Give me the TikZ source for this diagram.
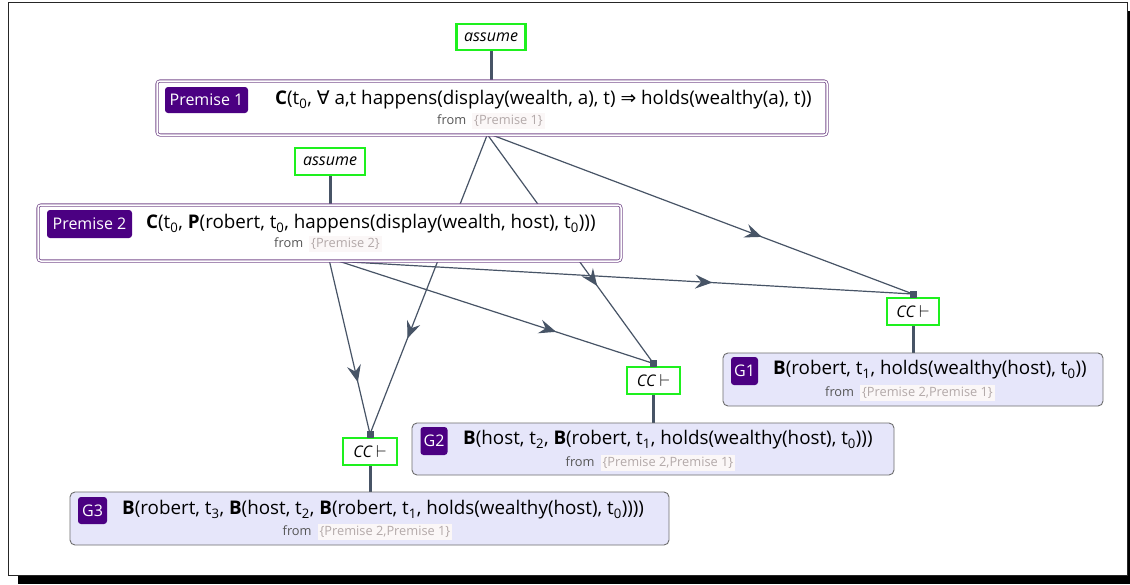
\documentclass[tikz,border=0pt]{standalone}
\usepackage{fontspec}
\setmainfont{Open Sans}
\newfontfamily\symf{DejaVu Sans}
\usetikzlibrary{arrows.meta,decorations.markings}
\definecolor{edgec}{HTML}{475466}
\definecolor{greenc}{HTML}{1EF01E}
\definecolor{tagc}{HTML}{4B0082}
\definecolor{premc}{HTML}{7B5290}
\definecolor{gfill}{HTML}{E6E6FA}
\definecolor{gdraw}{HTML}{6E6E6E}
\definecolor{fromc}{HTML}{555555}
\definecolor{bracec}{HTML}{B3A9A9}
\definecolor{bracebg}{HTML}{FBF7F7}
\pgfdeclarelayer{framelayer}
\pgfdeclarelayer{edgelayer}
\pgfsetlayers{framelayer,edgelayer,main}
\tikzset{
  prem/.style={draw=premc, double=white, double distance=1.5pt, line width=0.8pt, rounded corners=3pt, inner sep=0pt},
  goal/.style={draw=gdraw, fill=gfill, line width=0.9pt, rounded corners=5pt, inner sep=0pt},
  tag/.style={fill=tagc, rounded corners=3pt, text=white, font=\fontsize{16}{18}\selectfont, inner sep=0pt},
  rule/.style={draw=greenc, fill=white, line width=2.4pt, inner sep=0pt, font=\fontsize{16}{18}\selectfont\itshape},
  maintext/.style={anchor=west, inner sep=0pt, font=\fontsize{18.8}{21}\selectfont},
  fromtext/.style={inner sep=0pt, font=\fontsize{12.8}{15}\selectfont, text=fromc},
  sq/.style={fill=edgec, minimum size=7pt, inner sep=0pt},
  thick link/.style={draw=edgec, line width=3pt},
  edge/.style={draw=edgec, line width=1.2pt, postaction={decorate},
    decoration={markings, mark=at position #1 with {\arrow{Stealth[length=17pt,width=14pt,inset=6pt]}}}},
}
\newcommand{\fromline}[1]{from\hspace{6pt}{\setlength{\fboxsep}{2pt}\colorbox{bracebg}{\color{bracec}\{#1\}}}}
\newcommand{\ccl}{CC\hspace{4pt}$\vdash$}
\begin{document}
\begin{tikzpicture}[x=1pt,y=-1pt]
\useasboundingbox (0,0) rectangle (1130,584);
\begin{pgfonlayer}{framelayer}
  \fill[black] (18,11) rectangle (1130,584);
  \draw[fill=white, draw=black!85, line width=1pt] (8,2) rectangle (1127,575);
\end{pgfonlayer}

% Premise 1
\node[rule, minimum width=69pt, minimum height=26pt] (a1) at (491,37) {assume};
\node[prem, fill=white, minimum width=670pt, minimum height=54pt] (P1) at (492,108) {};
\node[tag, minimum width=83pt, minimum height=26pt] (t1) at (206.5,100) {Premise 1};
\node[maintext] (m1) at (275,100) {\textbf{C}(t\textsubscript{0}, {\symf ∀} a,t happens(display(wealth, a), t) {\symf ⇒} holds(wealthy(a), t))};
\node[fromtext] (f1) at (491,121) {\fromline{Premise 1}};

% Premise 2
\node[rule, minimum width=70pt, minimum height=27pt] (a2) at (330,161.5) {assume};
\node[prem, fill=white, minimum width=583pt, minimum height=56pt] (P2) at (329.5,233) {};
\node[tag, minimum width=85pt, minimum height=28pt] (t2) at (89.5,224) {Premise 2};
\node[maintext] (m2) at (146,224) {\textbf{C}(t\textsubscript{0}, \textbf{P}(robert, t\textsubscript{0}, happens(display(wealth, host), t\textsubscript{0})))};
\node[fromtext] (f2) at (328,244) {\fromline{Premise 2}};

% CC nodes and squares
\node[rule, minimum width=52pt, minimum height=27pt] (c1) at (913,311.5) {\ccl};
\node[sq] (s1) at (913,294) {};
\node[rule, minimum width=53pt, minimum height=27pt] (c2) at (653.5,380.5) {\ccl};
\node[sq] (s2) at (653.5,363.5) {};
\node[rule, minimum width=54pt, minimum height=27pt] (c3) at (370,451.5) {\ccl};
\node[sq] (s3) at (370,434) {};

% G1
\node[goal, minimum width=380pt, minimum height=53pt] (G1) at (913,379.5) {};
\node[tag, minimum width=27pt, minimum height=28pt] (g1t) at (744.5,371) {G1};
\node[maintext] (gm1) at (773,370) {\textbf{B}(robert, t\textsubscript{1}, holds(wealthy(host), t\textsubscript{0}))};
\node[fromtext] (gf1) at (910,393) {\fromline{Premise 2,Premise 1}};

% G2
\node[goal, minimum width=482pt, minimum height=52pt] (G2) at (653,449) {};
\node[tag, minimum width=27pt, minimum height=28pt] (g2t) at (434,441) {G2};
\node[maintext] (gm2) at (463,440) {\textbf{B}(host, t\textsubscript{2}, \textbf{B}(robert, t\textsubscript{1}, holds(wealthy(host), t\textsubscript{0})))};
\node[fromtext] (gf2) at (650.5,463) {\fromline{Premise 2,Premise 1}};

% G3
\node[goal, minimum width=599pt, minimum height=53pt] (G3) at (369.5,518.5) {};
\node[tag, minimum width=29pt, minimum height=27pt] (g3t) at (92.5,510.5) {G3};
\node[maintext] (gm3) at (122,510) {\textbf{B}(robert, t\textsubscript{3}, \textbf{B}(host, t\textsubscript{2}, \textbf{B}(robert, t\textsubscript{1}, holds(wealthy(host), t\textsubscript{0}))))};
\node[fromtext] (gf3) at (367.5,532) {\fromline{Premise 2,Premise 1}};

\begin{pgfonlayer}{edgelayer}
  \draw[thick link] (a1.south) -- (a1.south |- P1.north);
  \draw[thick link] (a2.south) -- (a2.south |- P2.north);
  \draw[thick link] (c1.south) -- (c1.south |- G1.north);
  \draw[thick link] (c2.south) -- (c2.south |- G2.north);
  \draw[thick link] (c3.south) -- (c3.south |- G3.north);
  \draw[edge=0.64] ([xshift=1pt]P1.south) -- (s1.center);
  \draw[edge=0.66] ([xshift=-4pt]P1.south) -- (s2.center);
  \draw[edge=0.68] ([xshift=-5pt]P1.south) -- (s3.center);
  \draw[edge=0.65] ([xshift=10pt]P2.south) -- (s1.center);
  \draw[edge=0.69] ([xshift=10pt]P2.south) -- (s2.center);
  \draw[edge=0.70] ([xshift=0pt]P2.south) -- (s3.center);
\end{pgfonlayer}
\end{tikzpicture}
\end{document}
